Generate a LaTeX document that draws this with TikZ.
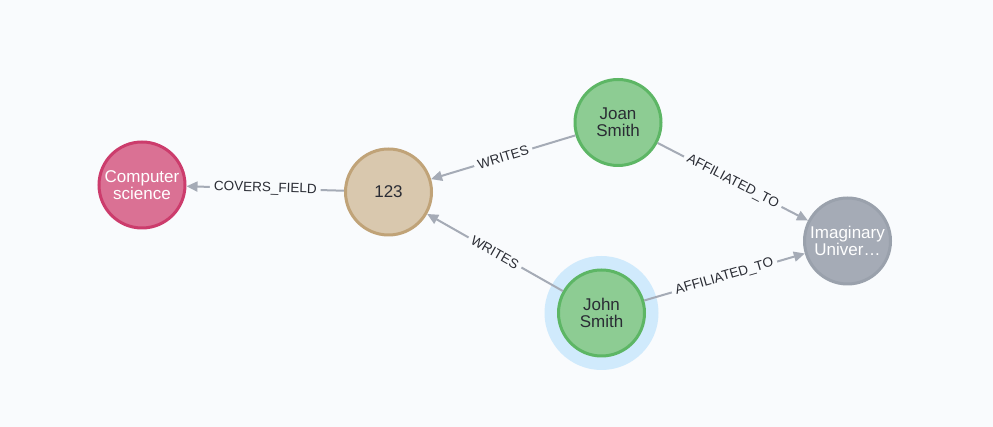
\documentclass[tikz,border=0pt]{standalone}
\usepackage{fontspec}
\setmainfont{Liberation Sans}
\usepackage{xcolor}
\usetikzlibrary{arrows.meta}
\definecolor{canvas}{HTML}{F9FBFD}
\definecolor{halo}{HTML}{D0EAFC}
\definecolor{edge}{HTML}{A5ABB6}
\definecolor{ink}{HTML}{2A2C34}
\definecolor{pinkfill}{HTML}{DA7194}
\definecolor{pinkline}{HTML}{CC3C6C}
\definecolor{tanfill}{HTML}{D9C8AE}
\definecolor{tanline}{HTML}{C0A378}
\definecolor{greenfill}{HTML}{8DCC93}
\definecolor{greenline}{HTML}{5DB665}
\definecolor{greyfill}{HTML}{A5ABB6}
\definecolor{greyline}{HTML}{9AA1AC}

\begin{document}
\begin{tikzpicture}[x=1pt,y=1pt,
entity/.style={circle,line width=3pt,inner sep=0pt,minimum size=86pt,
align=center,font=\fontsize{17}{17}\selectfont},
rel/.style={draw=edge,line width=2pt,-{Triangle[length=11pt,width=10pt]}},
relname/.style={midway,sloped,fill=canvas,inner sep=4pt,text=ink,
font=\fontsize{13.5}{13.5}\selectfont}]
\fill[canvas] (0,0) rectangle (993,427);
\useasboundingbox (0,0) rectangle (993,427);
\fill[halo] (601.5,114) circle (57);
\node[entity,draw=pinkline,fill=pinkfill,text=white] (field) at (142,242) {Computer\\science};
\node[entity,draw=tanline,fill=tanfill,text=ink] (paper) at (388.5,235) {123};
\node[entity,draw=greenline,fill=greenfill,text=ink] (joan) at (618,304.5) {Joan\\Smith};
\node[entity,draw=greenline,fill=greenfill,text=ink] (john) at (601.5,114) {John\\Smith};
\node[entity,draw=greyline,fill=greyfill,text=white] (univ) at (847.5,186) {Imaginary\\Univer…};
\draw[rel] (paper) -- node[relname] {COVERS\_FIELD} (field);
\draw[rel] (joan) -- node[relname] {WRITES} (paper);
\draw[rel] (john) -- node[relname] {WRITES} (paper);
\draw[rel] (joan) -- node[relname] {AFFILIATED\_TO} (univ);
\draw[rel] (john) -- node[relname] {AFFILIATED\_TO} (univ);
\end{tikzpicture}
\end{document}
